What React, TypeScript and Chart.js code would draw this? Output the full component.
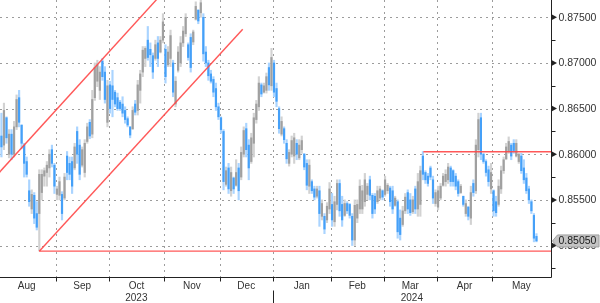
import { useEffect, useRef } from 'react';
import { Chart, registerables } from 'chart.js';
Chart.register(...registerables);

// Daily EUR/GBP-style bars, values in 1e-4 units (8612 => 0.8612). Index 0 = 1 Aug 2023 (weekdays).
const lows = [
  8597, 8597, 8605, 8612, 8596, 8594, 8597, 8627, 8630, 8606,
  8575, 8575, 8543, 8535, 8524, 8517, 8494, 8550, 8565, 8565,
  8575, 8586, 8557, 8550, 8550, 8528, 8550, 8572, 8572, 8557,
  8583, 8590, 8572, 8586, 8575, 8612, 8617, 8618, 8659, 8674,
  8660, 8681, 8656, 8630, 8645, 8641, 8652, 8648, 8648, 8641,
  8634, 8630, 8618, 8627, 8643, 8643, 8656, 8685, 8696, 8703,
  8696, 8683, 8703, 8696, 8711, 8722, 8678, 8696, 8696, 8663,
  8652, 8690, 8696, 8718, 8729, 8703, 8690, 8720, 8747, 8743,
  8750, 8702, 8696, 8681, 8678, 8663, 8648, 8638, 8623, 8561,
  8565, 8557, 8554, 8557, 8565, 8550, 8572, 8597, 8597, 8572,
  8590, 8597, 8634, 8648, 8663, 8667, 8667, 8670, 8670, 8663,
  8652, 8623, 8620, 8612, 8590, 8587, 8597, 8590, 8594, 8594,
  8601, 8583, 8561, 8557, 8557, 8550, 8552, 8521, 8528, 8513,
  8525, 8535, 8521, 8521, 8539, 8532, 8521, 8532, 8535, 8530,
  8500, 8500, 8525, 8535, 8535, 8543, 8550, 8550, 8530, 8535,
  8546, 8550, 8550, 8554, 8557, 8543, 8535, 8543, 8508, 8506,
  8521, 8535, 8535, 8533, 8535, 8535, 8532, 8532, 8572, 8568,
  8565, 8572, 8546, 8543, 8539, 8550, 8565, 8565, 8568, 8565,
  8565, 8561, 8554, 8557, 8543, 8532, 8528, 8523, 8554, 8557,
  8597, 8594, 8590, 8576, 8565, 8557, 8532, 8532, 8543, 8557,
  8579, 8594, 8601, 8594, 8601, 8597, 8590, 8579, 8568, 8557,
  8546, 8535, 8504, 8504,
];
const highs = [
  8625, 8645, 8656, 8641, 8627, 8627, 8636, 8665, 8670, 8632,
  8612, 8597, 8572, 8561, 8558, 8548, 8583, 8583, 8585, 8592,
  8605, 8610, 8590, 8565, 8575, 8559, 8579, 8603, 8597, 8597,
  8612, 8630, 8616, 8608, 8616, 8634, 8638, 8670, 8700, 8703,
  8696, 8705, 8696, 8681, 8680, 8692, 8670, 8667, 8659, 8663,
  8652, 8641, 8630, 8652, 8659, 8681, 8692, 8718, 8718, 8740,
  8722, 8711, 8725, 8729, 8729, 8754, 8720, 8718, 8736, 8703,
  8685, 8718, 8729, 8740, 8754, 8722, 8732, 8736, 8767, 8758,
  8769, 8754, 8718, 8703, 8692, 8685, 8678, 8656, 8641, 8627,
  8586, 8590, 8586, 8575, 8594, 8590, 8608, 8630, 8634, 8616,
  8623, 8645, 8659, 8685, 8678, 8678, 8689, 8700, 8716, 8703,
  8678, 8652, 8641, 8630, 8616, 8605, 8620, 8623, 8616, 8616,
  8620, 8601, 8594, 8594, 8572, 8565, 8565, 8565, 8550, 8535,
  8547, 8569, 8557, 8554, 8572, 8572, 8554, 8550, 8548, 8546,
  8535, 8550, 8550, 8572, 8566, 8579, 8568, 8576, 8557, 8557,
  8565, 8565, 8561, 8576, 8568, 8565, 8565, 8554, 8550, 8539,
  8543, 8557, 8561, 8557, 8554, 8565, 8579, 8587, 8603, 8582,
  8579, 8587, 8576, 8561, 8565, 8568, 8579, 8583, 8590, 8587,
  8583, 8579, 8572, 8567, 8554, 8550, 8543, 8565, 8572, 8616,
  8645, 8645, 8601, 8594, 8587, 8590, 8561, 8554, 8572, 8587,
  8597, 8612, 8619, 8612, 8616, 8616, 8601, 8601, 8594, 8579,
  8565, 8550, 8535, 8513,
];
const opens = [
  8605, 8620, 8610, 8640, 8600, 8622, 8600, 8630, 8662, 8632,
  8610, 8592, 8560, 8540, 8555, 8535, 8535, 8558, 8576, 8580,
  8585, 8605, 8588, 8556, 8555, 8556, 8552, 8598, 8590, 8592,
  8585, 8625, 8610, 8588, 8580, 8614, 8635, 8622, 8662, 8680,
  8670, 8702, 8690, 8635, 8676, 8675, 8668, 8662, 8657, 8655,
  8648, 8639, 8630, 8628, 8655, 8648, 8670, 8690, 8705, 8725,
  8715, 8708, 8705, 8722, 8712, 8725, 8715, 8698, 8705, 8700,
  8655, 8692, 8700, 8722, 8732, 8720, 8728, 8723, 8748, 8758,
  8755, 8750, 8712, 8700, 8688, 8682, 8672, 8652, 8640, 8625,
  8567, 8585, 8560, 8574, 8566, 8585, 8575, 8600, 8628, 8610,
  8592, 8612, 8638, 8652, 8676, 8668, 8670, 8695, 8675, 8700,
  8672, 8650, 8622, 8628, 8612, 8590, 8600, 8598, 8612, 8596,
  8605, 8600, 8590, 8565, 8570, 8562, 8554, 8560, 8532, 8532,
  8528, 8540, 8545, 8526, 8545, 8568, 8545, 8533, 8546, 8545,
  8532, 8506, 8530, 8540, 8540, 8548, 8556, 8572, 8555, 8554,
  8548, 8552, 8560, 8556, 8560, 8563, 8560, 8544, 8548, 8530,
  8523, 8538, 8558, 8550, 8537, 8562, 8540, 8545, 8598, 8580,
  8576, 8585, 8572, 8546, 8542, 8552, 8566, 8570, 8572, 8585,
  8582, 8576, 8570, 8558, 8554, 8535, 8542, 8530, 8568, 8560,
  8605, 8640, 8600, 8592, 8583, 8562, 8560, 8548, 8545, 8562,
  8582, 8595, 8603, 8610, 8612, 8598, 8592, 8598, 8585, 8574,
  8562, 8548, 8533, 8510,
];
const closes = [
  8620, 8608, 8648, 8618, 8622, 8600, 8630, 8660, 8635, 8612,
  8590, 8578, 8548, 8556, 8530, 8520, 8578, 8578, 8582, 8588,
  8600, 8590, 8565, 8562, 8570, 8535, 8575, 8580, 8578, 8565,
  8608, 8600, 8578, 8605, 8612, 8630, 8620, 8660, 8695, 8698,
  8690, 8685, 8660, 8675, 8650, 8660, 8655, 8650, 8650, 8645,
  8638, 8632, 8621, 8648, 8646, 8676, 8688, 8714, 8716, 8706,
  8709, 8690, 8720, 8705, 8725, 8745, 8685, 8712, 8730, 8668,
  8680, 8712, 8722, 8735, 8750, 8706, 8695, 8734, 8762, 8746,
  8766, 8710, 8700, 8686, 8680, 8668, 8652, 8641, 8627, 8570,
  8582, 8562, 8580, 8562, 8580, 8560, 8602, 8626, 8605, 8585,
  8618, 8640, 8655, 8678, 8666, 8675, 8685, 8676, 8706, 8668,
  8658, 8628, 8636, 8616, 8595, 8602, 8615, 8618, 8600, 8610,
  8615, 8586, 8566, 8588, 8560, 8553, 8562, 8535, 8546, 8518,
  8543, 8562, 8528, 8548, 8568, 8538, 8528, 8546, 8538, 8533,
  8506, 8544, 8545, 8565, 8560, 8572, 8565, 8555, 8535, 8540,
  8560, 8562, 8553, 8572, 8566, 8548, 8540, 8552, 8515, 8512,
  8538, 8553, 8540, 8536, 8550, 8540, 8570, 8582, 8578, 8572,
  8568, 8575, 8552, 8558, 8560, 8565, 8576, 8578, 8586, 8570,
  8570, 8565, 8557, 8565, 8545, 8546, 8532, 8558, 8558, 8610,
  8638, 8600, 8592, 8580, 8570, 8580, 8538, 8536, 8565, 8582,
  8594, 8608, 8614, 8598, 8604, 8612, 8600, 8582, 8572, 8560,
  8550, 8538, 8508, 8505,
];

// Axis text
const months = ['Aug', 'Sep', 'Oct', 'Nov', 'Dec', 'Jan', 'Feb', 'Mar', 'Apr', 'May'];
const monthStarts = [0, 23, 44, 66, 88, 109, 132, 153, 174, 196, 219];
const years = ['2023', '2024'];
const yearStarts = [0, 109, 370];
const yTicks = [0.85, 0.855, 0.86, 0.865, 0.87, 0.875];
const yMinorTicks = [0.8475, 0.8525, 0.8575, 0.8625, 0.8675, 0.8725];

// Trend lines drawn on the chart (index, price)
const supportLine = [{ x: 16, y: 0.84938 }, { x: 218.8, y: 0.84938 }];
const channelLower = [{ x: 16, y: 0.84938 }, { x: 96.6, y: 0.87369 }];
const channelUpper = [{ x: -1, y: 0.85766 }, { x: 66, y: 0.87802 }];
const resistanceLine = [{ x: 168.2, y: 0.86028 }, { x: 218.8, y: 0.86028 }];

const X_MIN = 0.43;
const X_MAX = 218.76;
const Y_MIN = 0.84655;
const Y_MAX = 0.8769;

const FONT = "'Liberation Sans', Arial, sans-serif";

const decorPlugin = {
  id: 'decor',
  beforeDatasetsDraw(chart: any) {
    const { ctx, chartArea: a, scales } = chart;
    const x = scales.x;
    const y = scales.y;
    ctx.save();
    ctx.strokeStyle = '#9c9c9c';
    ctx.lineWidth = 1;
    ctx.setLineDash([2, 4]);
    for (const t of yTicks) {
      const py = Math.round(y.getPixelForValue(t)) + 0.5;
      ctx.beginPath();
      ctx.moveTo(a.left, py);
      ctx.lineTo(a.right, py);
      ctx.stroke();
    }
    for (let i = 1; i < monthStarts.length - 1; i++) {
      const px = Math.round(x.getPixelForValue(monthStarts[i] - 0.5)) + 0.5;
      ctx.beginPath();
      ctx.moveTo(px, a.top);
      ctx.lineTo(px, a.bottom);
      ctx.stroke();
    }
    ctx.restore();
  },
  afterDraw(chart: any) {
    const { ctx, chartArea: a, scales } = chart;
    const x = scales.x;
    const y = scales.y;
    const H = chart.height;
    ctx.save();
    ctx.setLineDash([]);
    ctx.strokeStyle = '#222';
    ctx.fillStyle = '#222';
    ctx.lineWidth = 1;
    const bx = Math.round(a.right) + 0.5;
    const by = Math.round(a.bottom) + 0.5;
    ctx.beginPath();
    ctx.moveTo(bx, 0);
    ctx.lineTo(bx, by);
    ctx.moveTo(0, by);
    ctx.lineTo(bx, by);
    ctx.stroke();

    for (let i = 1; i < monthStarts.length - 1; i++) {
      const px = Math.round(x.getPixelForValue(monthStarts[i] - 0.5)) + 0.5;
      ctx.beginPath();
      ctx.moveTo(px, by);
      ctx.lineTo(px, by + 4);
      ctx.stroke();
    }
    for (let i = 1; i < yearStarts.length - 1; i++) {
      const px = Math.round(x.getPixelForValue(yearStarts[i] - 0.5)) + 0.5;
      ctx.beginPath();
      ctx.moveTo(px, by + 13);
      ctx.lineTo(px, H);
      ctx.stroke();
    }
    ctx.font = `10px ${FONT}`;
    ctx.fillStyle = '#333';
    ctx.textAlign = 'center';
    ctx.textBaseline = 'middle';
    for (let i = 0; i < months.length; i++) {
      const mid = (monthStarts[i] - 0.5 + monthStarts[i + 1] - 0.5) / 2;
      ctx.fillText(months[i], x.getPixelForValue(mid), by + 9);
    }
    for (let i = 0; i < years.length; i++) {
      const s = Math.max(yearStarts[i] - 0.5, X_MIN);
      const e = Math.min(yearStarts[i + 1] - 0.5, X_MAX);
      ctx.fillText(years[i], x.getPixelForValue((s + e) / 2), by + 21);
    }

    ctx.fillStyle = '#222';
    for (const t of yMinorTicks) {
      const py = Math.round(y.getPixelForValue(t)) + 0.5;
      ctx.beginPath();
      ctx.moveTo(bx, py);
      ctx.lineTo(bx + 4, py);
      ctx.stroke();
    }
    for (const t of yTicks) {
      const py = y.getPixelForValue(t);
      ctx.beginPath();
      ctx.moveTo(bx, py - 3);
      ctx.lineTo(bx + 5.5, py);
      ctx.lineTo(bx, py + 3);
      ctx.closePath();
      ctx.fill();
    }
    ctx.font = `10.5px ${FONT}`;
    ctx.fillStyle = '#333';
    ctx.textAlign = 'left';
    for (const t of yTicks) {
      ctx.fillText(t.toFixed(5), bx + 7, y.getPixelForValue(t) + 0.5);
    }

    const last = closes[closes.length - 1] / 10000;
    const ly = y.getPixelForValue(last);
    ctx.beginPath();
    ctx.moveTo(bx + 1, ly);
    ctx.lineTo(bx + 6, ly - 6);
    ctx.lineTo(599, ly - 6);
    ctx.lineTo(599, ly + 6);
    ctx.lineTo(bx + 6, ly + 6);
    ctx.closePath();
    ctx.fillStyle = '#c4c4c4';
    ctx.fill();
    ctx.strokeStyle = '#a0a0a0';
    ctx.stroke();
    ctx.fillStyle = '#1a1a1a';
    ctx.fillText(last.toFixed(5), bx + 7, ly + 0.5);
    ctx.restore();
  },
};

export default function App() {
  const ref = useRef<HTMLCanvasElement>(null);
  useEffect(() => {
    document.body.style.margin = '0';
    const up = closes.map((c, i) => c >= opens[i]);
    const wickData = lows.map((l, i) => ({ x: i, y: [l / 10000, highs[i] / 10000] }));
    const bodyData = opens.map((o, i) => ({ x: i, y: [o / 10000, closes[i] / 10000] }));
    const wickColors = up.map((u) => (u ? '#d2d2d2' : '#aad4ff'));
    const bodyColors = up.map((u) => (u ? '#a0a0a0' : '#45a0f8'));
    const red = 'rgba(255, 70, 70, 0.9)';
    const lineDs = (d: any) => ({
      type: 'line',
      data: d,
      borderColor: red,
      borderWidth: 1.4,
      pointRadius: 0,
      fill: false,
      order: 1,
      tension: 0,
    });
    const chart = new Chart(ref.current as HTMLCanvasElement, {
      type: 'bar',
      data: {
        datasets: [
          {
            data: wickData,
            backgroundColor: wickColors,
            barThickness: 1.5,
            grouped: false,
            borderWidth: 0,
            order: 3,
          },
          {
            data: bodyData,
            backgroundColor: bodyColors,
            barThickness: 1.5,
            grouped: false,
            borderWidth: 0,
            minBarLength: 1,
            order: 2,
          },
          lineDs(supportLine),
          lineDs(channelLower),
          lineDs(channelUpper),
          lineDs(resistanceLine),
        ] as any,
      },
      options: {
        responsive: false,
        animation: false,
        devicePixelRatio: 1,
        layout: { padding: { left: 0, top: 0, right: 49, bottom: 26 } },
        plugins: { legend: { display: false }, tooltip: { enabled: false } },
        scales: {
          x: { type: 'linear', min: X_MIN, max: X_MAX, offset: false, display: false },
          y: { type: 'linear', min: Y_MIN, max: Y_MAX, display: false },
        },
      } as any,
      plugins: [decorPlugin],
    });
    return () => chart.destroy();
  }, []);
  return (
    <div style={{ position: 'absolute', left: 0, top: 0, width: 600, height: 303, background: '#fff' }}>
      <canvas ref={ref} width={600} height={303} style={{ width: 600, height: 303, display: 'block' }} />
    </div>
  );
}
